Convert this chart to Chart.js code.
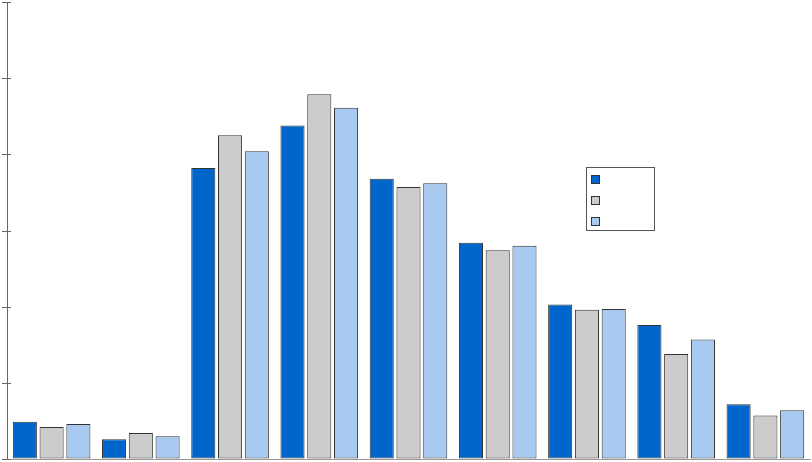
<!DOCTYPE html>
<html>
<head>
<meta charset="utf-8">
<script src="https://cdn.jsdelivr.net/npm/chart.js@4"></script>
<style>
  html, body { margin: 0; padding: 0; background: #fff; }
  #wrap { width: 812px; height: 462px; }
</style>
</head>
<body>
<div id="wrap"><canvas id="bars"></canvas></div>
<script>
var categories = ['', '', '', '', '', '', '', '', ''];
var seriesA = [0.49, 0.26, 3.82, 4.38, 3.68, 2.84, 2.03, 1.76, 0.72];
var seriesB = [0.42, 0.34, 4.25, 4.79, 3.57, 2.74, 1.96, 1.38, 0.57];
var seriesC = [0.46, 0.30, 4.04, 4.61, 3.62, 2.80, 1.97, 1.57, 0.64];
var yTicks = [0, 1, 2, 3, 4, 5, 6];

// ticks that cross the y axis line
var crossTicks = {
    id: 'crossTicks',
    afterDraw: function(chart) {
        var ctx = chart.ctx;
        var y = chart.scales.y;
        ctx.save();
        ctx.strokeStyle = '#666';
        ctx.lineWidth = 1;
        yTicks.forEach(function(v) {
            var py = Math.round(y.getPixelForValue(v)) + 0.5;
            ctx.beginPath();
            ctx.moveTo(y.right - 5, py);
            ctx.lineTo(y.right + 4, py);
            ctx.stroke();
        });
        ctx.restore();
    }
};

// boxed legend with swatches only
var boxLegend = {
    id: 'boxLegend',
    afterDraw: function(chart) {
        var ctx = chart.ctx;
        ctx.save();
        ctx.fillStyle = '#fff';
        ctx.strokeStyle = '#555';
        ctx.lineWidth = 1;
        ctx.fillRect(586.5, 167.5, 68, 63);
        ctx.strokeRect(586.5, 167.5, 68, 63);
        chart.data.datasets.forEach(function(ds, i) {
            var top = 175.5 + i * 21;
            ctx.fillStyle = ds.backgroundColor;
            ctx.fillRect(591.5, top, 8, 8);
            ctx.strokeStyle = '#333';
            ctx.strokeRect(591.5, top, 8, 8);
        });
        ctx.restore();
    }
};

var ctx = document.getElementById('bars').getContext('2d');
var myChart = new Chart(ctx, {
    type: 'bar',
    data: {
        labels: categories,
        datasets: [{
            data: seriesA,
            backgroundColor: 'rgb(0, 102, 204)',
            borderColor: '#333',
            borderWidth: 1,
            borderSkipped: false
        }, {
            data: seriesB,
            backgroundColor: 'rgb(204, 204, 204)',
            borderColor: '#333',
            borderWidth: 1,
            borderSkipped: false
        }, {
            data: seriesC,
            backgroundColor: 'rgb(168, 202, 240)',
            borderColor: '#333',
            borderWidth: 1,
            borderSkipped: false
        }]
    },
    options: {
        responsive: true,
        maintainAspectRatio: false,
        animation: false,
        layout: { padding: { left: 7, top: 2, right: 2, bottom: 3 } },
        datasets: { bar: { categoryPercentage: 0.9, barPercentage: 0.9 } },
        plugins: {
            legend: { display: false },
            tooltip: { enabled: false }
        },
        scales: {
            x: {
                grid: { display: false, drawTicks: false },
                ticks: { display: false },
                border: { color: '#999', width: 1 }
            },
            y: {
                min: 0,
                max: 6,
                ticks: { display: false, stepSize: 1 },
                grid: { drawOnChartArea: false, drawTicks: false },
                border: { color: '#666', width: 1 }
            }
        }
    },
    plugins: [crossTicks, boxLegend]
});
</script>
</body>
</html>
